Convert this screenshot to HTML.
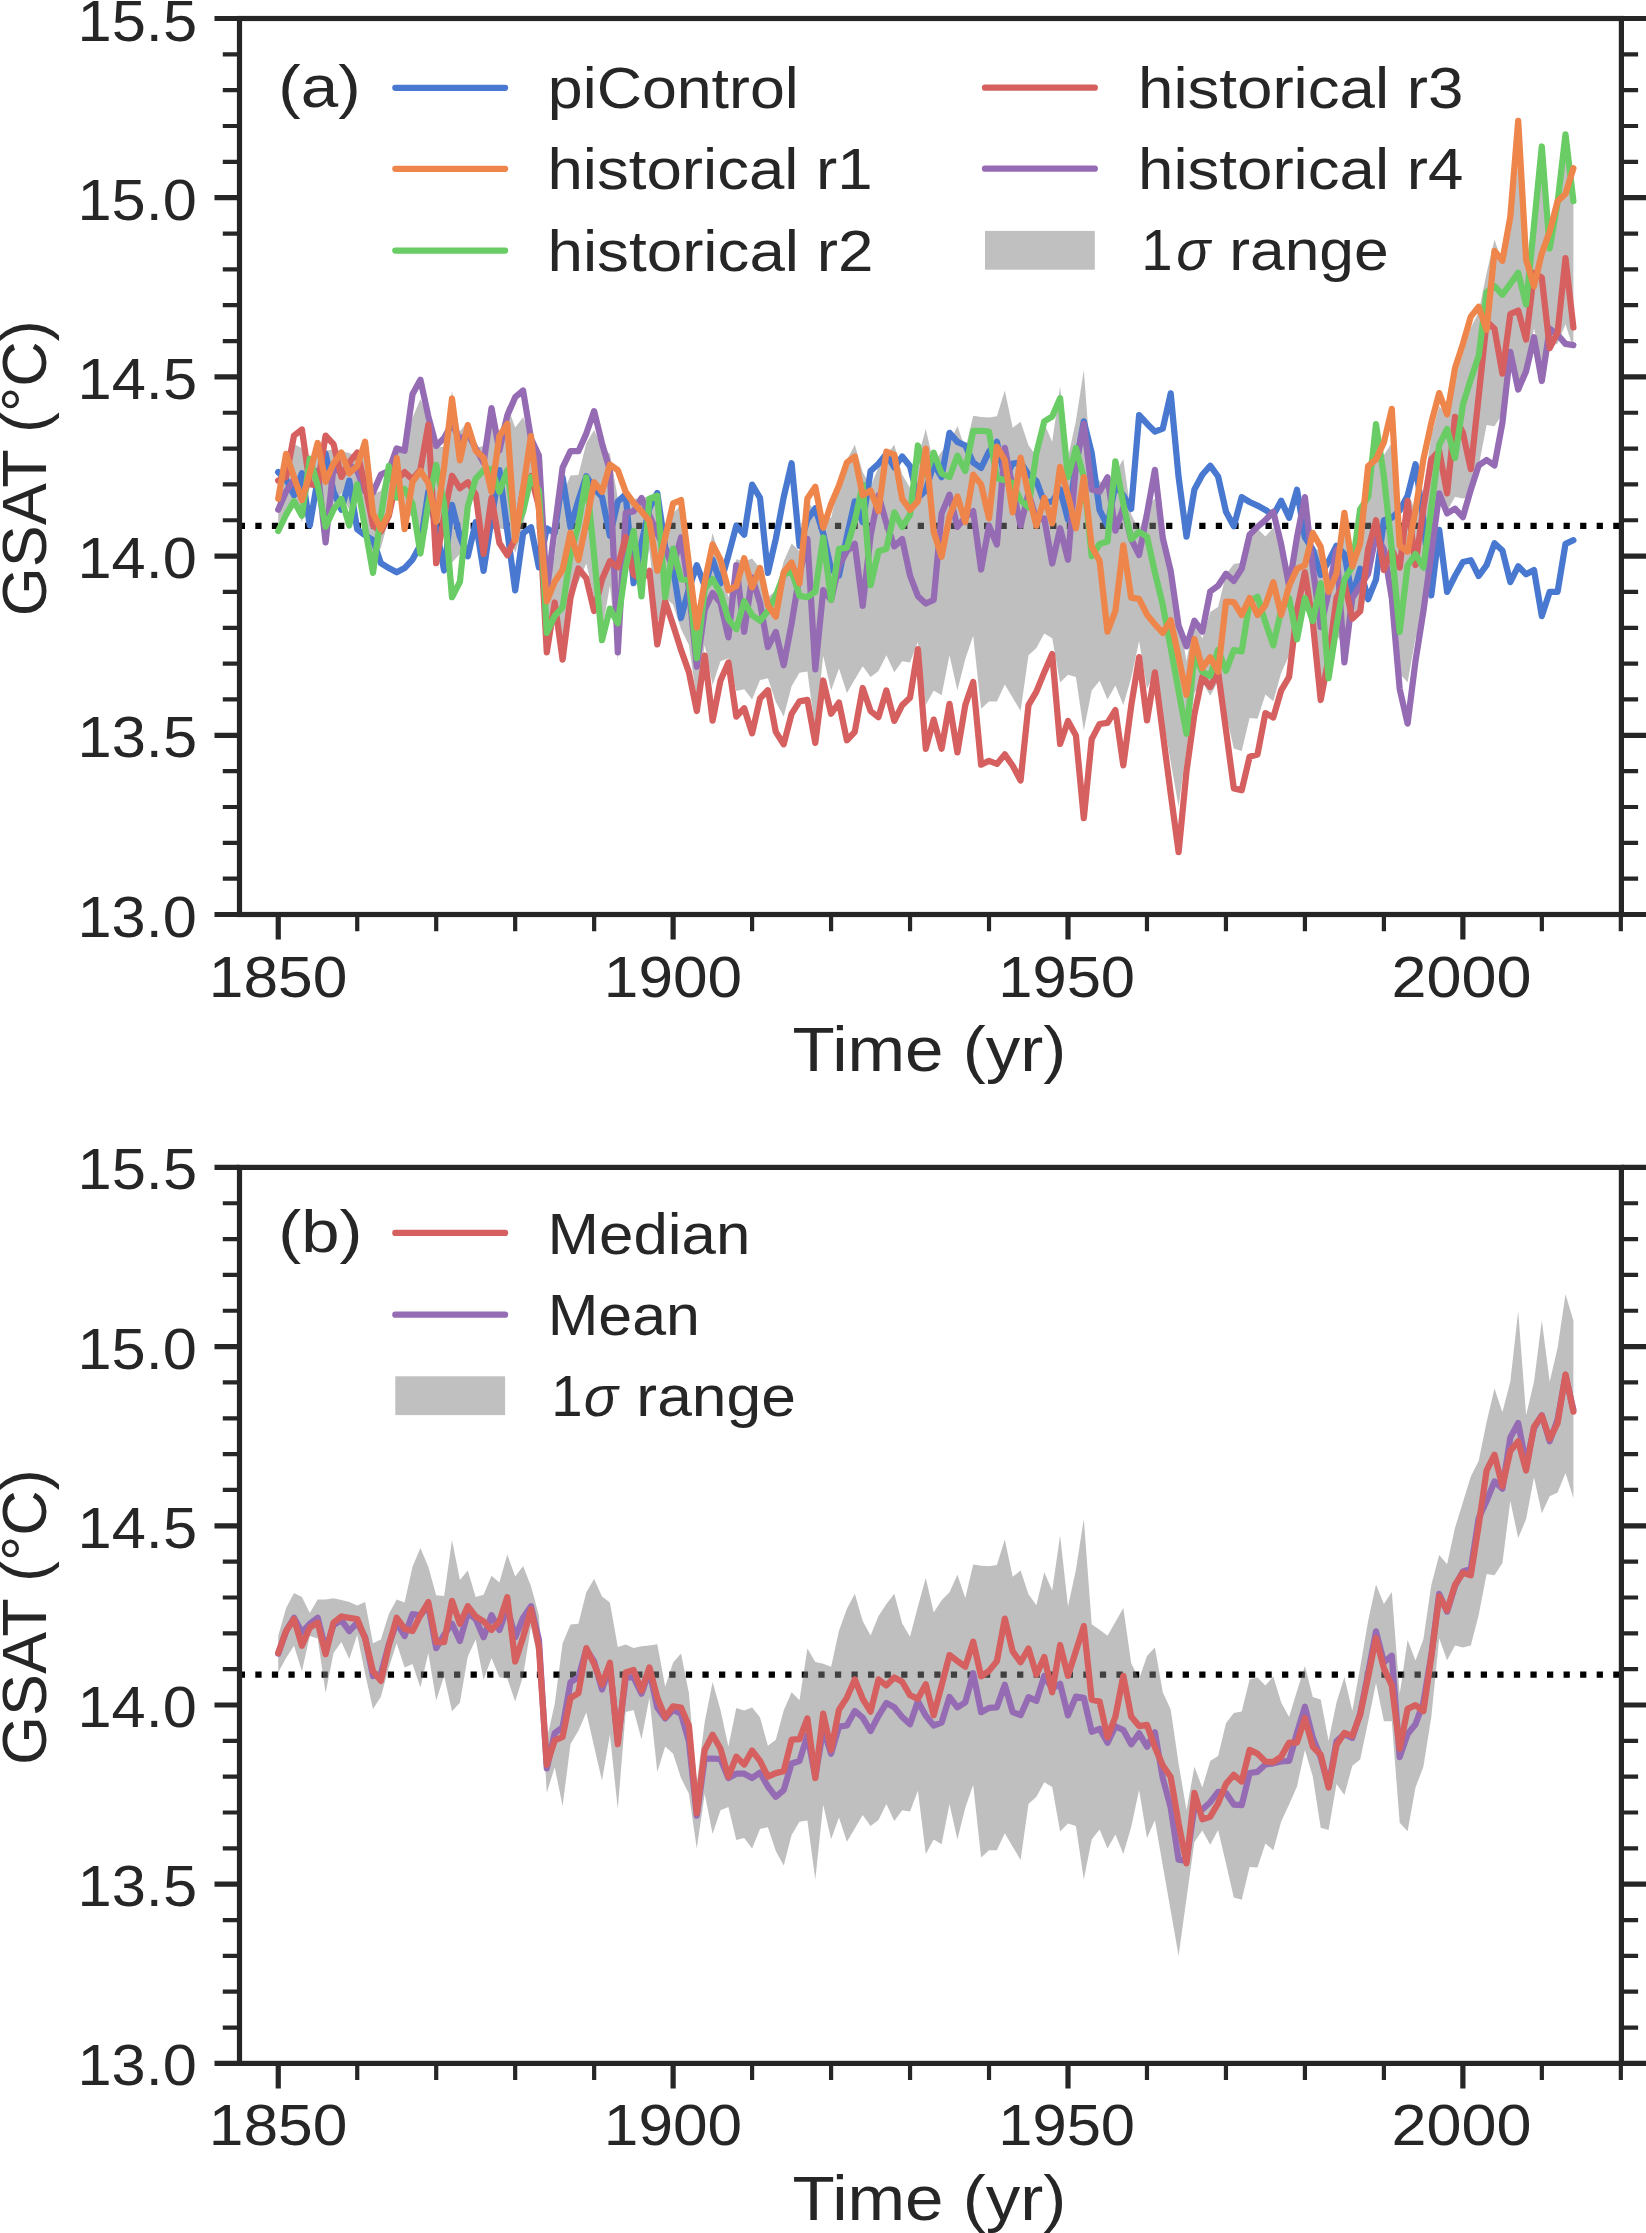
<!DOCTYPE html><html lang="en"><head><meta charset="utf-8"><title>GSAT</title><style>html,body{margin:0;padding:0;background:#fff}svg{display:block}</style></head><body>
<svg width="1646" height="2233" viewBox="0 0 1646 2233">
<rect width="1646" height="2233" fill="#fff"/>
<defs><clipPath id="ca"><rect x="239.5" y="18.5" width="1381.90" height="896"/></clipPath><clipPath id="cb"><rect x="239.5" y="1167.4" width="1381.90" height="896"/></clipPath></defs>
<g clip-path="url(#ca)" fill="none" stroke-width="6.25" stroke-linejoin="round" stroke-linecap="round">
<path d="M238.76 525.82H1621.4" stroke="#000" stroke-dasharray="6.25 10.31" stroke-linecap="butt"/>
<path d="M278.2 487.1L286.1 459.1L294.0 444.0L301.9 448.2L309.8 464.0L317.7 450.6L325.6 450.6L333.5 449.4L341.4 451.2L349.3 453.1L357.2 456.7L365.1 453.1L373.0 494.4L380.9 490.7L388.8 465.2L396.7 450.6L404.6 453.7L412.5 417.8L420.4 399.0L428.3 417.8L436.2 446.4L444.1 447.0L452.0 391.1L459.9 431.2L467.8 421.5L475.7 448.2L483.6 445.8L491.5 426.9L499.4 433.6L507.3 405.7L515.2 427.6L523.1 417.2L531.0 437.3L538.9 466.4L546.8 590.4L554.7 555.1L562.6 494.4L570.5 475.5L578.4 474.9L586.3 443.3L594.1 430.0L602.0 447.6L609.9 453.7L617.8 498.0L625.7 495.6L633.6 499.2L641.5 497.4L649.4 496.6L657.3 495.4L665.2 537.9L673.1 513.6L681.0 504.5L688.9 544.0L696.8 633.9L704.7 573.2L712.6 533.1L720.5 561.0L728.4 597.5L736.3 559.2L744.2 561.6L752.1 558.6L760.0 568.3L767.9 596.9L775.8 590.8L783.7 561.6L791.6 543.4L799.5 551.3L807.4 499.7L815.3 513.0L823.2 514.8L831.1 517.9L839.0 481.8L846.9 459.9L854.8 444.8L862.7 472.0L870.6 486.6L878.5 467.2L886.4 455.0L894.3 444.8L902.2 474.5L910.0 487.8L917.9 457.5L925.8 429.0L933.7 463.5L941.6 451.4L949.5 443.4L957.4 425.9L965.3 449.0L973.2 415.7L981.1 416.9L989.0 417.4L996.9 416.2L1004.8 390.6L1012.7 427.8L1020.6 421.7L1028.5 445.3L1036.4 456.3L1044.3 423.4L1052.2 441.7L1060.1 386.5L1068.0 457.5L1075.9 421.0L1083.8 370.0L1091.7 475.4L1099.6 480.9L1107.5 486.9L1115.4 473.0L1123.3 459.0L1131.2 514.3L1139.1 530.1L1147.0 507.0L1154.9 498.5L1162.8 543.4L1170.7 560.5L1178.6 614.8L1186.5 661.0L1194.4 617.9L1202.3 638.7L1210.2 612.0L1218.1 607.1L1226.0 574.3L1233.8 564.0L1241.7 562.7L1249.6 530.5L1257.5 528.7L1265.4 536.6L1273.3 527.5L1281.2 553.6L1289.1 568.2L1297.0 542.1L1304.9 517.2L1312.8 548.2L1320.7 550.6L1328.6 591.9L1336.5 553.6L1344.4 528.1L1352.3 562.1L1360.2 518.3L1368.1 472.1L1376.0 435.7L1383.9 455.1L1391.8 443.0L1399.7 545.0L1407.6 491.0L1415.5 511.6L1423.4 490.4L1431.3 436.0L1439.2 406.2L1447.1 415.3L1455.0 378.9L1462.9 353.3L1470.8 327.7L1478.7 311.9L1486.6 273.0L1494.5 239.6L1502.4 263.3L1510.3 232.9L1518.2 162.4L1526.1 266.3L1534.0 232.9L1541.8 171.5L1549.7 232.9L1557.6 198.9L1565.5 145.4L1573.4 171.5L1573.4 349.1L1565.5 324.2L1557.6 343.6L1549.7 347.3L1541.8 364.3L1534.0 328.4L1526.1 370.4L1518.2 389.2L1510.3 352.1L1502.4 414.1L1494.5 426.3L1486.6 425.0L1478.7 466.1L1470.8 496.7L1462.9 498.5L1455.0 496.7L1447.1 511.3L1439.2 489.4L1431.3 568.1L1423.4 617.9L1415.5 638.6L1407.6 682.3L1399.7 673.8L1391.8 572.4L1383.9 572.4L1376.0 534.1L1368.1 573.0L1360.2 610.7L1352.3 616.8L1344.4 646.0L1336.5 635.0L1328.6 681.2L1320.7 678.8L1312.8 627.7L1304.9 601.0L1297.0 637.5L1289.1 655.7L1281.2 672.7L1273.3 701.3L1265.4 694.6L1257.5 718.7L1249.6 718.1L1241.7 750.9L1233.8 748.5L1226.0 714.5L1218.1 681.2L1210.2 695.8L1202.3 681.7L1194.4 693.2L1186.5 749.7L1178.6 806.8L1170.7 761.9L1162.8 716.9L1154.9 671.3L1147.0 689.0L1139.1 641.0L1131.2 678.0L1123.3 705.0L1115.4 685.6L1107.5 699.6L1099.6 680.7L1091.7 690.5L1083.8 730.6L1075.9 677.1L1068.0 674.7L1060.1 682.6L1052.2 638.2L1044.3 633.4L1036.4 647.9L1028.5 655.2L1020.6 711.1L1012.7 697.8L1004.8 684.4L996.9 701.4L989.0 701.4L981.1 708.7L973.2 635.8L965.3 658.9L957.4 690.5L949.5 655.2L941.6 695.3L933.7 690.5L925.8 705.1L917.9 641.9L910.0 662.5L902.2 661.3L894.3 672.2L886.4 655.2L878.5 671.0L870.6 677.1L862.7 666.2L854.8 679.5L846.9 692.9L839.0 668.6L831.1 690.4L823.2 655.8L815.3 730.5L807.4 671.6L799.5 672.8L791.6 686.2L783.7 716.5L775.8 702.0L767.9 678.3L760.0 680.1L752.1 699.5L744.2 689.2L736.3 691.0L728.4 658.2L720.5 661.3L712.6 685.0L704.7 644.9L696.8 699.5L688.9 644.9L681.0 629.1L673.1 604.8L665.2 597.5L657.3 623.0L649.4 548.9L641.5 590.4L633.6 561.2L625.7 563.0L617.8 660.2L609.9 585.5L602.0 631.7L594.1 597.7L586.3 563.6L578.4 581.9L570.5 595.2L562.6 657.2L554.7 618.3L546.8 643.8L538.9 515.0L531.0 477.4L523.1 527.2L515.2 552.7L507.3 529.6L499.4 528.4L491.5 509.0L483.6 530.8L475.7 490.7L467.8 507.7L459.9 553.9L452.0 562.4L444.1 527.2L436.2 551.5L428.3 504.1L420.4 538.7L412.5 515.0L404.6 518.7L396.7 494.4L388.8 518.7L380.9 547.8L373.0 560.0L365.1 524.8L357.2 485.9L349.3 510.2L341.4 493.2L333.5 504.1L325.6 544.2L317.7 489.5L309.8 487.1L301.9 522.3L294.0 496.8L286.1 509.0L278.2 523.5Z" fill="#808080" fill-opacity="0.5" stroke="none"/>
<path d="M278.2 472.1L286.1 479.4L294.0 495.2L301.9 473.3L309.8 525.5L317.7 479.4L325.6 453.8L333.5 491.5L341.4 509.7L349.3 480.6L357.2 529.2L365.1 535.2L373.0 540.1L380.9 563.2L388.8 568.1L396.7 572.3L404.6 568.1L412.5 559.6L420.4 545.0L428.3 491.5L436.2 528.0L444.1 570.5L452.0 504.9L459.9 536.9L467.8 556.3L475.7 522.3L483.6 570.9L491.5 518.7L499.4 470.1L507.3 530.8L515.2 590.3L523.1 533.2L531.0 527.2L538.9 567.3L546.8 528.4L554.7 533.2L562.6 477.3L570.5 527.2L578.4 500.4L586.3 476.1L594.1 488.3L602.0 496.8L609.9 535.7L617.8 501.6L625.7 494.4L633.6 583.1L641.5 543.0L649.4 508.3L657.3 493.0L665.2 547.2L673.1 568.0L681.0 618.0L688.9 588.8L696.8 565.2L704.7 586.1L712.6 559.7L720.5 583.3L728.4 555.5L736.3 525.7L744.2 534.7L752.1 484.7L760.0 497.9L767.9 572.9L775.8 538.9L783.7 497.2L791.6 463.2L799.5 545.8L807.4 519.4L815.3 508.3L823.2 533.3L831.1 569.4L839.0 575.5L846.9 536.6L854.8 501.4L862.7 522.1L870.6 471.0L878.5 463.7L886.4 454.0L894.3 467.4L902.2 456.5L910.0 466.2L917.9 497.8L925.8 490.5L933.7 463.7L941.6 477.1L949.5 432.8L957.4 441.9L965.3 445.5L973.2 462.5L981.1 468.0L989.0 451.6L996.9 441.9L1004.8 478.3L1012.7 463.7L1020.6 462.5L1028.5 474.8L1036.4 480.9L1044.3 502.7L1052.2 501.5L1060.1 489.4L1068.0 519.7L1075.9 465.1L1083.8 421.3L1091.7 452.9L1099.6 510.0L1107.5 525.8L1115.4 484.5L1123.3 495.4L1131.2 508.8L1139.1 415.2L1147.0 423.7L1154.9 431.6L1162.8 428.6L1170.7 393.4L1178.6 477.2L1186.5 536.7L1194.4 489.4L1202.3 474.8L1210.2 465.7L1218.1 476.5L1226.0 511.7L1233.8 526.3L1241.7 497.1L1249.6 502.0L1257.5 505.6L1265.4 509.9L1273.3 515.3L1281.2 500.8L1289.1 517.8L1297.0 489.8L1304.9 537.2L1312.8 549.4L1320.7 574.9L1328.6 561.5L1336.5 545.7L1344.4 554.2L1352.3 596.7L1360.2 568.8L1368.1 599.2L1376.0 579.7L1383.9 520.2L1391.8 517.8L1399.7 510.5L1407.6 495.8L1415.5 464.2L1423.4 520.1L1431.3 595.4L1439.2 529.8L1447.1 591.8L1455.0 576.0L1462.9 562.0L1470.8 560.2L1478.7 576.0L1486.6 565.1L1494.5 543.2L1502.4 550.5L1510.3 582.1L1518.2 566.3L1526.1 574.2L1534.0 569.9L1541.8 616.1L1549.7 591.8L1557.6 591.8L1565.5 543.8L1573.4 540.2" stroke="#4878d0"/>
<path d="M278.2 509.7L286.1 491.5L294.0 479.4L301.9 498.8L309.8 475.7L317.7 470.9L325.6 542.5L333.5 467.2L341.4 473.3L349.3 464.8L357.2 470.9L365.1 491.5L373.0 492.7L380.9 474.5L388.8 470.9L396.7 448.4L404.6 450.8L412.5 394.3L420.4 379.7L428.3 416.2L436.2 445.9L444.1 438.0L452.0 423.5L459.9 439.7L467.8 433.6L475.7 448.2L483.6 462.8L491.5 408.1L499.4 450.6L507.3 415.4L515.2 397.2L523.1 390.5L531.0 438.5L538.9 455.5L546.8 591.6L554.7 528.4L562.6 467.6L570.5 451.2L578.4 451.2L586.3 433.6L594.1 411.1L602.0 443.3L609.9 470.1L617.8 652.3L625.7 512.6L633.6 511.4L641.5 498.0L649.4 515.3L657.3 533.3L665.2 550.0L673.1 566.6L681.0 537.5L688.9 588.8L696.8 666.6L704.7 609.7L712.6 593.0L720.5 602.7L728.4 637.4L736.3 565.2L744.2 631.9L752.1 577.7L760.0 602.7L767.9 647.1L775.8 631.9L783.7 665.2L791.6 623.5L799.5 574.9L807.4 538.9L815.3 669.4L823.2 590.2L831.1 599.9L839.0 565.8L846.9 551.2L854.8 543.9L862.7 605.9L870.6 535.4L878.5 495.3L886.4 523.3L894.3 546.4L902.2 539.1L910.0 575.5L917.9 596.2L925.8 603.5L933.7 599.8L941.6 513.6L949.5 494.7L957.4 526.9L965.3 517.2L973.2 511.1L981.1 569.5L989.0 525.7L996.9 544.5L1004.8 447.9L1012.7 488.0L1020.6 525.7L1028.5 492.9L1036.4 519.7L1044.3 518.5L1052.2 563.5L1060.1 528.2L1068.0 559.8L1075.9 465.1L1083.8 423.7L1091.7 489.4L1099.6 491.8L1107.5 477.2L1115.4 530.7L1123.3 507.6L1131.2 539.2L1139.1 555.0L1147.0 513.7L1154.9 469.9L1162.8 538.0L1170.7 570.9L1178.6 625.6L1186.5 646.3L1194.4 620.8L1202.3 631.7L1210.2 591.6L1218.1 585.8L1226.0 573.7L1233.8 580.9L1241.7 568.8L1249.6 534.8L1257.5 526.9L1265.4 520.2L1273.3 511.7L1281.2 544.5L1289.1 585.8L1297.0 537.2L1304.9 497.1L1312.8 567.6L1320.7 627.1L1328.6 591.9L1336.5 549.4L1344.4 662.4L1352.3 598.0L1360.2 585.8L1368.1 573.7L1376.0 534.8L1383.9 549.4L1391.8 598.0L1399.7 689.1L1407.6 723.6L1415.5 661.1L1423.4 611.2L1431.3 554.1L1439.2 493.4L1447.1 513.4L1455.0 508.6L1462.9 517.1L1470.8 489.7L1478.7 465.4L1486.6 460.0L1494.5 465.4L1502.4 422.9L1510.3 351.8L1518.2 389.5L1526.1 371.2L1534.0 337.2L1541.8 381.0L1549.7 328.7L1557.6 334.8L1565.5 343.9L1573.4 345.1" stroke="#956cb4"/>
<path d="M278.2 480.6L286.1 476.9L294.0 435.6L301.9 429.5L309.8 484.2L317.7 485.4L325.6 435.6L333.5 444.1L341.4 476.9L349.3 462.3L357.2 452.6L365.1 485.4L373.0 525.5L380.9 531.6L388.8 515.8L396.7 479.4L404.6 472.1L412.5 479.4L420.4 469.6L428.3 424.7L436.2 563.2L444.1 515.8L452.0 475.7L459.9 488.3L467.8 482.2L475.7 494.4L483.6 553.9L491.5 498.0L499.4 543.0L507.3 555.1L515.2 538.1L523.1 489.5L531.0 476.1L538.9 506.5L546.8 652.3L554.7 602.5L562.6 659.6L570.5 597.6L578.4 568.5L586.3 578.2L594.1 611.0L602.0 579.4L609.9 561.2L617.8 567.3L625.7 536.9L633.6 574.6L641.5 579.4L649.4 570.8L657.3 644.4L665.2 601.3L673.1 624.9L681.0 649.9L688.9 672.1L696.8 711.0L704.7 655.5L712.6 720.7L720.5 680.5L728.4 662.4L736.3 716.6L744.2 708.2L752.1 733.2L760.0 698.5L767.9 690.2L775.8 731.8L783.7 744.3L791.6 713.8L799.5 701.3L807.4 699.9L815.3 742.9L823.2 680.5L831.1 713.8L839.0 702.6L846.9 740.3L854.8 731.8L862.7 688.0L870.6 711.1L878.5 717.2L886.4 690.5L894.3 720.9L902.2 705.1L910.0 697.8L917.9 649.2L925.8 748.8L933.7 719.6L941.6 748.8L949.5 703.8L957.4 752.4L965.3 705.1L973.2 682.0L981.1 764.6L989.0 760.9L996.9 763.9L1004.8 754.4L1012.7 765.8L1020.6 780.4L1028.5 705.1L1036.4 691.7L1044.3 672.2L1052.2 654.0L1060.1 743.9L1068.0 720.9L1075.9 735.4L1083.8 818.1L1091.7 739.1L1099.6 724.0L1107.5 722.8L1115.4 710.1L1123.3 765.3L1131.2 705.8L1139.1 657.2L1147.0 720.4L1154.9 672.4L1162.8 733.0L1170.7 793.7L1178.6 852.1L1186.5 771.4L1194.4 714.3L1202.3 676.6L1210.2 687.0L1218.1 671.8L1226.0 730.1L1233.8 788.4L1241.7 790.3L1249.6 756.8L1257.5 754.4L1265.4 713.1L1273.3 717.4L1281.2 690.3L1289.1 676.9L1297.0 610.1L1304.9 572.4L1312.8 622.3L1320.7 700.0L1328.6 658.7L1336.5 598.0L1344.4 582.2L1352.3 618.6L1360.2 611.3L1368.1 549.4L1376.0 520.2L1383.9 570.0L1391.8 549.4L1399.7 567.6L1407.6 500.8L1415.5 565.1L1423.4 508.0L1431.3 459.4L1439.2 450.9L1447.1 493.4L1455.0 416.8L1462.9 432.6L1470.8 469.1L1478.7 396.2L1486.6 321.4L1494.5 328.7L1502.4 373.7L1510.3 314.1L1518.2 310.5L1526.1 339.6L1534.0 272.8L1541.8 277.7L1549.7 348.2L1557.6 332.4L1565.5 258.2L1573.4 327.5" stroke="#d65f5f"/>
<path d="M278.2 531.0L286.1 514.6L294.0 501.2L301.9 515.8L309.8 458.7L317.7 485.4L325.6 526.7L333.5 509.7L341.4 498.8L349.3 525.5L357.2 484.2L365.1 528.0L373.0 572.9L380.9 515.8L388.8 466.0L396.7 497.6L404.6 489.1L412.5 503.7L420.4 553.5L428.3 503.7L436.2 464.8L444.1 503.7L452.0 597.2L459.9 581.8L467.8 506.5L475.7 478.6L483.6 470.1L491.5 468.8L499.4 491.9L507.3 470.1L515.2 530.8L523.1 511.4L531.0 477.3L538.9 490.7L546.8 632.9L554.7 615.9L562.6 607.4L570.5 555.1L578.4 524.7L586.3 477.3L594.1 555.1L602.0 640.2L609.9 608.6L617.8 623.2L625.7 567.3L633.6 530.8L641.5 596.4L649.4 498.6L657.3 495.8L665.2 597.2L673.1 548.6L681.0 579.1L688.9 580.5L696.8 658.2L704.7 588.8L712.6 579.1L720.5 593.0L728.4 619.4L736.3 629.1L744.2 601.3L752.1 615.2L760.0 620.8L767.9 611.0L775.8 595.8L783.7 574.9L791.6 570.8L799.5 595.8L807.4 597.2L815.3 591.6L823.2 537.5L831.1 599.9L839.0 548.8L846.9 547.6L854.8 520.9L862.7 484.4L870.6 585.2L878.5 551.2L886.4 548.8L894.3 512.3L902.2 526.9L910.0 514.8L917.9 445.5L925.8 474.7L933.7 452.8L941.6 473.5L949.5 477.1L957.4 455.8L965.3 471.0L973.2 430.9L981.1 430.9L989.0 431.5L996.9 478.3L1004.8 480.1L1012.7 483.2L1020.6 500.2L1028.5 507.5L1036.4 452.9L1044.3 421.3L1052.2 416.5L1060.1 398.2L1068.0 477.2L1075.9 448.0L1083.8 477.2L1091.7 556.2L1099.6 544.0L1107.5 541.6L1115.4 461.4L1123.3 503.9L1131.2 539.2L1139.1 531.9L1147.0 536.7L1154.9 572.2L1162.8 605.0L1170.7 647.8L1178.6 690.9L1186.5 733.8L1194.4 654.8L1202.3 671.8L1210.2 676.0L1218.1 649.9L1226.0 670.9L1233.8 650.2L1241.7 651.4L1249.6 601.6L1257.5 596.7L1265.4 622.3L1273.3 645.3L1281.2 610.1L1289.1 598.0L1297.0 639.3L1304.9 598.0L1312.8 621.0L1320.7 583.4L1328.6 678.2L1336.5 625.9L1344.4 579.7L1352.3 566.4L1360.2 509.3L1368.1 497.1L1376.0 424.2L1383.9 476.5L1391.8 549.4L1399.7 632.0L1407.6 565.2L1415.5 554.1L1423.4 567.5L1431.3 508.0L1439.2 444.8L1447.1 429.0L1455.0 458.1L1462.9 404.7L1470.8 379.2L1478.7 356.1L1486.6 292.3L1494.5 286.2L1502.4 294.7L1510.3 283.8L1518.2 272.8L1526.1 304.4L1534.0 225.4L1541.8 146.5L1549.7 248.5L1557.6 202.3L1565.5 134.3L1573.4 201.1" stroke="#6acc64"/>
<path d="M278.2 498.8L286.1 453.8L294.0 476.9L301.9 500.0L309.8 473.3L317.7 442.9L325.6 481.8L333.5 463.6L341.4 452.6L349.3 473.3L357.2 466.0L365.1 441.7L373.0 513.4L380.9 529.2L388.8 513.4L396.7 458.1L404.6 529.2L412.5 481.8L420.4 470.9L428.3 483.0L436.2 521.9L444.1 467.2L452.0 398.6L459.9 460.3L467.8 425.1L475.7 450.6L483.6 457.9L491.5 491.9L499.4 436.0L507.3 423.9L515.2 540.5L523.1 488.3L531.0 436.0L538.9 508.9L546.8 601.3L554.7 581.8L562.6 569.7L570.5 532.6L578.4 560.0L586.3 522.3L594.1 482.2L602.0 491.9L609.9 464.6L617.8 470.1L625.7 491.9L633.6 502.9L641.5 511.4L649.4 520.8L657.3 570.8L665.2 537.5L673.1 503.4L681.0 500.0L688.9 563.8L696.8 627.7L704.7 581.9L712.6 544.4L720.5 559.7L728.4 590.2L736.3 586.1L744.2 558.3L752.1 587.4L760.0 568.0L767.9 605.5L775.8 616.6L783.7 572.2L791.6 562.5L799.5 583.3L807.4 498.6L815.3 486.8L823.2 527.7L831.1 504.1L839.0 485.6L846.9 462.5L854.8 456.5L862.7 495.3L870.6 490.5L878.5 511.1L886.4 451.6L894.3 454.6L902.2 499.0L910.0 509.9L917.9 501.4L925.8 448.6L933.7 531.8L941.6 556.7L949.5 516.0L957.4 496.5L965.3 522.1L973.2 474.7L981.1 484.4L989.0 518.4L996.9 446.7L1004.8 460.1L1012.7 512.3L1020.6 457.7L1028.5 494.1L1036.4 525.8L1044.3 497.9L1052.2 523.4L1060.1 466.9L1068.0 495.4L1075.9 528.2L1083.8 477.2L1091.7 546.5L1099.6 561.0L1107.5 631.7L1115.4 610.9L1123.3 545.3L1131.2 597.7L1139.1 598.9L1147.0 614.7L1154.9 624.4L1162.8 632.9L1170.7 620.1L1178.6 657.2L1186.5 694.9L1194.4 639.0L1202.3 668.1L1210.2 657.2L1218.1 671.8L1226.0 601.6L1233.8 602.2L1241.7 615.0L1249.6 598.0L1257.5 615.0L1265.4 605.2L1273.3 582.2L1281.2 615.0L1289.1 585.8L1297.0 568.8L1304.9 565.2L1312.8 533.0L1320.7 546.9L1328.6 591.9L1336.5 573.7L1344.4 512.9L1352.3 566.4L1360.2 543.3L1368.1 466.1L1376.0 459.4L1383.9 442.4L1391.8 408.9L1399.7 545.7L1407.6 551.7L1415.5 510.4L1423.4 459.4L1431.3 422.9L1439.2 393.1L1447.1 414.4L1455.0 368.2L1462.9 343.9L1470.8 316.6L1478.7 306.8L1486.6 329.9L1494.5 250.9L1502.4 260.7L1510.3 216.9L1518.2 120.9L1526.1 259.5L1534.0 286.2L1541.8 253.4L1549.7 231.5L1557.6 201.1L1565.5 193.8L1573.4 168.3" stroke="#ee854a"/>
</g>
<rect x="239.5" y="18.5" width="1381.90" height="896.0" fill="none" stroke="#262626" stroke-width="5.2"/>
<path d="M214.50 914.50H239.5M1621.4 914.50H1646.40M214.50 735.30H239.5M1621.4 735.30H1646.40M214.50 556.10H239.5M1621.4 556.10H1646.40M214.50 376.90H239.5M1621.4 376.90H1646.40M214.50 197.70H239.5M1621.4 197.70H1646.40M214.50 18.50H239.5M1621.4 18.50H1646.40M278.25 914.5V939.50M673.12 914.5V939.50M1068.00 914.5V939.50M1462.88 914.5V939.50" stroke="#262626" stroke-width="5.2" fill="none"/>
<path d="M222.80 878.66H239.5M1621.4 878.66H1638.10M222.80 842.82H239.5M1621.4 842.82H1638.10M222.80 806.98H239.5M1621.4 806.98H1638.10M222.80 771.14H239.5M1621.4 771.14H1638.10M222.80 699.46H239.5M1621.4 699.46H1638.10M222.80 663.62H239.5M1621.4 663.62H1638.10M222.80 627.78H239.5M1621.4 627.78H1638.10M222.80 591.94H239.5M1621.4 591.94H1638.10M222.80 520.26H239.5M1621.4 520.26H1638.10M222.80 484.42H239.5M1621.4 484.42H1638.10M222.80 448.58H239.5M1621.4 448.58H1638.10M222.80 412.74H239.5M1621.4 412.74H1638.10M222.80 341.06H239.5M1621.4 341.06H1638.10M222.80 305.22H239.5M1621.4 305.22H1638.10M222.80 269.38H239.5M1621.4 269.38H1638.10M222.80 233.54H239.5M1621.4 233.54H1638.10M222.80 161.86H239.5M1621.4 161.86H1638.10M222.80 126.02H239.5M1621.4 126.02H1638.10M222.80 90.18H239.5M1621.4 90.18H1638.10M222.80 54.34H239.5M1621.4 54.34H1638.10M357.23 914.5V931.20M436.20 914.5V931.20M515.17 914.5V931.20M594.15 914.5V931.20M752.10 914.5V931.20M831.08 914.5V931.20M910.05 914.5V931.20M989.02 914.5V931.20M1146.97 914.5V931.20M1225.95 914.5V931.20M1304.92 914.5V931.20M1383.90 914.5V931.20M1541.85 914.5V931.20M1620.83 914.5V931.20" stroke="#262626" stroke-width="4.2" fill="none"/>
<text x="77.50" y="936.50" font-size="57.5" font-family="Liberation Sans, sans-serif" fill="#262626" textLength="119.31" lengthAdjust="spacingAndGlyphs">13.0</text>
<text x="77.49" y="757.30" font-size="57.5" font-family="Liberation Sans, sans-serif" fill="#262626" textLength="119.60" lengthAdjust="spacingAndGlyphs">13.5</text>
<text x="77.50" y="578.10" font-size="57.5" font-family="Liberation Sans, sans-serif" fill="#262626" textLength="119.31" lengthAdjust="spacingAndGlyphs">14.0</text>
<text x="77.49" y="398.90" font-size="57.5" font-family="Liberation Sans, sans-serif" fill="#262626" textLength="119.60" lengthAdjust="spacingAndGlyphs">14.5</text>
<text x="77.50" y="219.70" font-size="57.5" font-family="Liberation Sans, sans-serif" fill="#262626" textLength="119.31" lengthAdjust="spacingAndGlyphs">15.0</text>
<text x="77.49" y="40.50" font-size="57.5" font-family="Liberation Sans, sans-serif" fill="#262626" textLength="119.60" lengthAdjust="spacingAndGlyphs">15.5</text>
<text x="208.83" y="996.50" font-size="57.5" font-family="Liberation Sans, sans-serif" fill="#262626" textLength="138.52" lengthAdjust="spacingAndGlyphs">1850</text>
<text x="603.83" y="996.50" font-size="57.5" font-family="Liberation Sans, sans-serif" fill="#262626" textLength="138.31" lengthAdjust="spacingAndGlyphs">1900</text>
<text x="998.18" y="996.50" font-size="57.5" font-family="Liberation Sans, sans-serif" fill="#262626" textLength="136.94" lengthAdjust="spacingAndGlyphs">1950</text>
<text x="1391.52" y="996.50" font-size="57.5" font-family="Liberation Sans, sans-serif" fill="#262626" textLength="139.96" lengthAdjust="spacingAndGlyphs">2000</text>
<text x="792.54" y="1071.30" font-size="62.5" font-family="Liberation Sans, sans-serif" fill="#262626" textLength="273.84" lengthAdjust="spacingAndGlyphs">Time (yr)</text>
<text transform="rotate(-90)" x="-616.18" y="46.1" font-size="62.5" font-family="Liberation Sans, sans-serif" fill="#262626" textLength="295.84" lengthAdjust="spacingAndGlyphs">GSAT (°C)</text>
<g clip-path="url(#cb)" fill="none" stroke-width="6.25" stroke-linejoin="round" stroke-linecap="round">
<path d="M238.76 1674.72H1621.4" stroke="#000" stroke-dasharray="6.25 10.31" stroke-linecap="butt"/>
<path d="M278.2 1636.0L286.1 1608.0L294.0 1592.9L301.9 1597.1L309.8 1612.9L317.7 1599.5L325.6 1599.5L333.5 1598.3L341.4 1600.1L349.3 1602.0L357.2 1605.6L365.1 1602.0L373.0 1643.3L380.9 1639.6L388.8 1614.1L396.7 1599.5L404.6 1602.6L412.5 1566.7L420.4 1547.9L428.3 1566.7L436.2 1595.3L444.1 1595.9L452.0 1540.0L459.9 1580.1L467.8 1570.4L475.7 1597.1L483.6 1594.7L491.5 1575.8L499.4 1582.5L507.3 1554.6L515.2 1576.5L523.1 1566.1L531.0 1586.2L538.9 1615.3L546.8 1739.3L554.7 1704.0L562.6 1643.3L570.5 1624.4L578.4 1623.8L586.3 1592.2L594.1 1578.9L602.0 1596.5L609.9 1602.6L617.8 1646.9L625.7 1644.5L633.6 1648.1L641.5 1646.3L649.4 1645.5L657.3 1644.3L665.2 1686.8L673.1 1662.5L681.0 1653.4L688.9 1692.9L696.8 1782.8L704.7 1722.1L712.6 1682.0L720.5 1709.9L728.4 1746.4L736.3 1708.1L744.2 1710.5L752.1 1707.5L760.0 1717.2L767.9 1745.8L775.8 1739.7L783.7 1710.5L791.6 1692.3L799.5 1700.2L807.4 1648.6L815.3 1661.9L823.2 1663.7L831.1 1666.8L839.0 1630.7L846.9 1608.8L854.8 1593.7L862.7 1620.9L870.6 1635.5L878.5 1616.1L886.4 1603.9L894.3 1593.7L902.2 1623.4L910.0 1636.7L917.9 1606.4L925.8 1577.9L933.7 1612.4L941.6 1600.3L949.5 1592.3L957.4 1574.8L965.3 1597.9L973.2 1564.6L981.1 1565.8L989.0 1566.3L996.9 1565.1L1004.8 1539.5L1012.7 1576.7L1020.6 1570.6L1028.5 1594.2L1036.4 1605.2L1044.3 1572.3L1052.2 1590.6L1060.1 1535.4L1068.0 1606.4L1075.9 1569.9L1083.8 1518.9L1091.7 1624.3L1099.6 1629.8L1107.5 1635.8L1115.4 1621.9L1123.3 1607.9L1131.2 1663.2L1139.1 1679.0L1147.0 1655.9L1154.9 1647.4L1162.8 1692.3L1170.7 1709.4L1178.6 1763.7L1186.5 1809.9L1194.4 1766.8L1202.3 1787.6L1210.2 1760.9L1218.1 1756.0L1226.0 1723.2L1233.8 1712.9L1241.7 1711.6L1249.6 1679.4L1257.5 1677.6L1265.4 1685.5L1273.3 1676.4L1281.2 1702.5L1289.1 1717.1L1297.0 1691.0L1304.9 1666.1L1312.8 1697.1L1320.7 1699.5L1328.6 1740.8L1336.5 1702.5L1344.4 1677.0L1352.3 1711.0L1360.2 1667.2L1368.1 1621.0L1376.0 1584.6L1383.9 1604.0L1391.8 1591.9L1399.7 1693.9L1407.6 1639.9L1415.5 1660.5L1423.4 1639.3L1431.3 1584.9L1439.2 1555.1L1447.1 1564.2L1455.0 1527.8L1462.9 1502.2L1470.8 1476.6L1478.7 1460.8L1486.6 1421.9L1494.5 1388.5L1502.4 1412.2L1510.3 1381.8L1518.2 1311.3L1526.1 1415.2L1534.0 1381.8L1541.8 1320.4L1549.7 1381.8L1557.6 1347.8L1565.5 1294.3L1573.4 1320.4L1573.4 1498.0L1565.5 1473.1L1557.6 1492.5L1549.7 1496.2L1541.8 1513.2L1534.0 1477.3L1526.1 1519.3L1518.2 1538.1L1510.3 1501.0L1502.4 1563.0L1494.5 1575.2L1486.6 1573.9L1478.7 1615.0L1470.8 1645.6L1462.9 1647.4L1455.0 1645.6L1447.1 1660.2L1439.2 1638.3L1431.3 1717.0L1423.4 1766.8L1415.5 1787.5L1407.6 1831.2L1399.7 1822.7L1391.8 1721.3L1383.9 1721.3L1376.0 1683.0L1368.1 1721.9L1360.2 1759.6L1352.3 1765.7L1344.4 1794.9L1336.5 1783.9L1328.6 1830.1L1320.7 1827.7L1312.8 1776.6L1304.9 1749.9L1297.0 1786.4L1289.1 1804.6L1281.2 1821.6L1273.3 1850.2L1265.4 1843.5L1257.5 1867.6L1249.6 1867.0L1241.7 1899.8L1233.8 1897.4L1226.0 1863.4L1218.1 1830.1L1210.2 1844.7L1202.3 1830.6L1194.4 1842.1L1186.5 1898.6L1178.6 1955.7L1170.7 1910.8L1162.8 1865.8L1154.9 1820.2L1147.0 1837.9L1139.1 1789.9L1131.2 1826.9L1123.3 1853.9L1115.4 1834.5L1107.5 1848.5L1099.6 1829.6L1091.7 1839.4L1083.8 1879.5L1075.9 1826.0L1068.0 1823.6L1060.1 1831.5L1052.2 1787.1L1044.3 1782.3L1036.4 1796.8L1028.5 1804.1L1020.6 1860.0L1012.7 1846.7L1004.8 1833.3L996.9 1850.3L989.0 1850.3L981.1 1857.6L973.2 1784.7L965.3 1807.8L957.4 1839.4L949.5 1804.1L941.6 1844.2L933.7 1839.4L925.8 1854.0L917.9 1790.8L910.0 1811.4L902.2 1810.2L894.3 1821.1L886.4 1804.1L878.5 1819.9L870.6 1826.0L862.7 1815.1L854.8 1828.4L846.9 1841.8L839.0 1817.5L831.1 1839.3L823.2 1804.7L815.3 1879.4L807.4 1820.5L799.5 1821.7L791.6 1835.1L783.7 1865.4L775.8 1850.9L767.9 1827.2L760.0 1829.0L752.1 1848.4L744.2 1838.1L736.3 1839.9L728.4 1807.1L720.5 1810.2L712.6 1833.9L704.7 1793.8L696.8 1848.4L688.9 1793.8L681.0 1778.0L673.1 1753.7L665.2 1746.4L657.3 1771.9L649.4 1697.8L641.5 1739.3L633.6 1710.1L625.7 1711.9L617.8 1809.1L609.9 1734.4L602.0 1780.6L594.1 1746.6L586.3 1712.5L578.4 1730.8L570.5 1744.1L562.6 1806.1L554.7 1767.2L546.8 1792.7L538.9 1663.9L531.0 1626.3L523.1 1676.1L515.2 1701.6L507.3 1678.5L499.4 1677.3L491.5 1657.9L483.6 1679.7L475.7 1639.6L467.8 1656.6L459.9 1702.8L452.0 1711.3L444.1 1676.1L436.2 1700.4L428.3 1653.0L420.4 1687.6L412.5 1663.9L404.6 1667.6L396.7 1643.3L388.8 1667.6L380.9 1696.7L373.0 1708.9L365.1 1673.7L357.2 1634.8L349.3 1659.1L341.4 1642.1L333.5 1653.0L325.6 1693.1L317.7 1638.4L309.8 1636.0L301.9 1671.2L294.0 1645.7L286.1 1657.9L278.2 1672.4Z" fill="#808080" fill-opacity="0.5" stroke="none"/>
<path d="M278.2 1653.6L286.1 1631.1L294.0 1617.8L301.9 1632.3L309.8 1623.8L317.7 1617.8L325.6 1649.4L333.5 1625.1L341.4 1620.2L349.3 1631.1L357.2 1622.6L365.1 1637.2L373.0 1676.1L380.9 1673.7L388.8 1644.5L396.7 1622.6L404.6 1636.0L412.5 1614.1L420.4 1615.3L428.3 1605.6L436.2 1648.1L444.1 1634.8L452.0 1623.8L459.9 1640.9L467.8 1612.9L475.7 1619.0L483.6 1637.2L491.5 1615.3L499.4 1629.9L507.3 1608.0L515.2 1637.2L523.1 1617.8L531.0 1606.2L538.9 1639.6L546.8 1768.4L554.7 1733.2L562.6 1727.1L570.5 1682.2L578.4 1677.3L586.3 1649.4L594.1 1661.5L602.0 1689.5L609.9 1666.4L617.8 1741.7L625.7 1677.3L633.6 1677.3L641.5 1693.7L649.4 1671.0L657.3 1707.5L665.2 1718.4L673.1 1709.9L681.0 1713.6L688.9 1741.5L696.8 1815.6L704.7 1758.5L712.6 1758.5L720.5 1759.1L728.4 1778.0L736.3 1773.7L744.2 1773.7L752.1 1778.0L760.0 1772.5L767.9 1786.5L775.8 1796.8L783.7 1790.1L791.6 1763.4L799.5 1760.9L807.4 1735.4L815.3 1776.7L823.2 1729.4L831.1 1753.7L839.0 1726.7L846.9 1725.5L854.8 1710.9L862.7 1717.6L870.6 1731.0L878.5 1715.8L886.4 1703.0L894.3 1707.3L902.2 1717.0L910.0 1724.3L917.9 1701.2L925.8 1715.8L933.7 1725.5L941.6 1722.5L949.5 1697.0L957.4 1707.3L965.3 1702.4L973.2 1673.3L981.1 1712.2L989.0 1707.9L996.9 1707.3L1004.8 1684.8L1012.7 1712.2L1020.6 1715.2L1028.5 1697.2L1036.4 1700.9L1044.3 1675.9L1052.2 1688.7L1060.1 1683.8L1068.0 1715.4L1075.9 1696.6L1083.8 1697.8L1091.7 1731.8L1099.6 1728.8L1107.5 1742.8L1115.4 1726.4L1123.3 1730.0L1131.2 1744.3L1139.1 1733.4L1147.0 1746.7L1154.9 1732.2L1162.8 1778.3L1170.7 1807.5L1178.6 1859.7L1186.5 1860.9L1194.4 1807.5L1202.3 1809.5L1210.2 1802.2L1218.1 1791.8L1226.0 1793.0L1233.8 1804.6L1241.7 1805.2L1249.6 1773.0L1257.5 1771.8L1265.4 1764.5L1273.3 1763.3L1281.2 1761.5L1289.1 1760.9L1297.0 1732.9L1304.9 1706.8L1312.8 1737.8L1320.7 1757.2L1328.6 1786.4L1336.5 1741.4L1344.4 1734.1L1352.3 1737.8L1360.2 1713.5L1368.1 1673.3L1376.0 1631.4L1383.9 1662.3L1391.8 1655.7L1399.7 1757.1L1407.6 1734.0L1415.5 1724.3L1423.4 1702.4L1431.3 1655.3L1439.2 1594.0L1447.1 1611.6L1455.0 1586.1L1462.9 1571.5L1470.8 1569.1L1478.7 1518.0L1486.6 1500.9L1494.5 1481.4L1502.4 1488.7L1510.3 1437.7L1518.2 1423.1L1526.1 1464.4L1534.0 1428.0L1541.8 1415.2L1549.7 1441.3L1557.6 1419.5L1565.5 1375.7L1573.4 1409.7" stroke="#956cb4"/>
<path d="M278.2 1653.0L286.1 1631.1L294.0 1619.0L301.9 1645.7L309.8 1627.5L317.7 1622.6L325.6 1654.2L333.5 1622.6L341.4 1616.5L349.3 1617.8L357.2 1619.0L365.1 1638.4L373.0 1671.2L380.9 1680.9L388.8 1645.7L396.7 1617.8L404.6 1628.7L412.5 1631.1L420.4 1615.3L428.3 1602.0L436.2 1642.1L444.1 1642.1L452.0 1600.8L459.9 1623.8L467.8 1606.2L475.7 1616.5L483.6 1621.4L491.5 1629.9L499.4 1621.4L507.3 1597.1L515.2 1661.5L523.1 1637.2L531.0 1609.3L538.9 1646.9L546.8 1764.8L554.7 1740.5L562.6 1736.8L570.5 1698.0L578.4 1693.1L586.3 1648.1L594.1 1663.9L602.0 1684.6L609.9 1662.7L617.8 1744.1L625.7 1672.4L633.6 1670.0L641.5 1690.7L649.4 1667.4L657.3 1697.8L665.2 1717.2L673.1 1706.3L681.0 1707.5L688.9 1725.7L696.8 1813.2L704.7 1750.0L712.6 1734.8L720.5 1748.8L728.4 1776.7L736.3 1756.7L744.2 1764.6L752.1 1750.6L760.0 1760.9L767.9 1776.7L775.8 1773.1L783.7 1771.3L791.6 1739.7L799.5 1739.1L807.4 1718.4L815.3 1778.0L823.2 1713.6L831.1 1750.0L839.0 1709.7L846.9 1697.6L854.8 1679.4L862.7 1698.8L870.6 1711.6L878.5 1679.4L886.4 1685.4L894.3 1677.5L902.2 1681.8L910.0 1695.2L917.9 1698.8L925.8 1684.2L933.7 1715.2L941.6 1685.4L949.5 1655.1L957.4 1661.1L965.3 1666.6L973.2 1641.7L981.1 1676.3L989.0 1670.9L996.9 1661.1L1004.8 1618.6L1012.7 1651.4L1020.6 1662.3L1028.5 1648.6L1036.4 1674.7L1044.3 1657.1L1052.2 1692.3L1060.1 1645.0L1068.0 1675.9L1075.9 1651.0L1083.8 1626.1L1091.7 1699.6L1099.6 1701.5L1107.5 1737.3L1115.4 1716.6L1123.3 1675.9L1131.2 1716.6L1139.1 1726.1L1147.0 1724.9L1154.9 1747.3L1162.8 1765.6L1170.7 1777.1L1178.6 1823.3L1186.5 1863.4L1194.4 1792.9L1202.3 1819.2L1210.2 1816.7L1218.1 1803.4L1226.0 1783.9L1233.8 1774.8L1241.7 1781.5L1249.6 1749.9L1257.5 1753.6L1265.4 1761.5L1273.3 1762.1L1281.2 1756.6L1289.1 1742.6L1297.0 1742.6L1304.9 1718.3L1312.8 1746.9L1320.7 1754.8L1328.6 1787.6L1336.5 1745.1L1344.4 1732.9L1352.3 1735.9L1360.2 1714.7L1368.1 1676.9L1376.0 1638.0L1383.9 1668.4L1391.8 1685.4L1399.7 1748.6L1407.6 1708.8L1415.5 1705.2L1423.4 1711.2L1431.3 1656.6L1439.2 1596.4L1447.1 1610.4L1455.0 1584.9L1462.9 1572.7L1470.8 1575.2L1478.7 1525.2L1486.6 1470.5L1494.5 1454.7L1502.4 1486.3L1510.3 1451.0L1518.2 1441.3L1526.1 1470.5L1534.0 1426.7L1541.8 1415.8L1549.7 1438.9L1557.6 1423.1L1565.5 1374.5L1573.4 1411.6" stroke="#d65f5f"/>
</g>
<rect x="239.5" y="1167.4" width="1381.90" height="896.0" fill="none" stroke="#262626" stroke-width="5.2"/>
<path d="M214.50 2063.40H239.5M1621.4 2063.40H1646.40M214.50 1884.20H239.5M1621.4 1884.20H1646.40M214.50 1705.00H239.5M1621.4 1705.00H1646.40M214.50 1525.80H239.5M1621.4 1525.80H1646.40M214.50 1346.60H239.5M1621.4 1346.60H1646.40M214.50 1167.40H239.5M1621.4 1167.40H1646.40M278.25 2063.4V2088.40M673.12 2063.4V2088.40M1068.00 2063.4V2088.40M1462.88 2063.4V2088.40" stroke="#262626" stroke-width="5.2" fill="none"/>
<path d="M222.80 2027.56H239.5M1621.4 2027.56H1638.10M222.80 1991.72H239.5M1621.4 1991.72H1638.10M222.80 1955.88H239.5M1621.4 1955.88H1638.10M222.80 1920.04H239.5M1621.4 1920.04H1638.10M222.80 1848.36H239.5M1621.4 1848.36H1638.10M222.80 1812.52H239.5M1621.4 1812.52H1638.10M222.80 1776.68H239.5M1621.4 1776.68H1638.10M222.80 1740.84H239.5M1621.4 1740.84H1638.10M222.80 1669.16H239.5M1621.4 1669.16H1638.10M222.80 1633.32H239.5M1621.4 1633.32H1638.10M222.80 1597.48H239.5M1621.4 1597.48H1638.10M222.80 1561.64H239.5M1621.4 1561.64H1638.10M222.80 1489.96H239.5M1621.4 1489.96H1638.10M222.80 1454.12H239.5M1621.4 1454.12H1638.10M222.80 1418.28H239.5M1621.4 1418.28H1638.10M222.80 1382.44H239.5M1621.4 1382.44H1638.10M222.80 1310.76H239.5M1621.4 1310.76H1638.10M222.80 1274.92H239.5M1621.4 1274.92H1638.10M222.80 1239.08H239.5M1621.4 1239.08H1638.10M222.80 1203.24H239.5M1621.4 1203.24H1638.10M357.23 2063.4V2080.10M436.20 2063.4V2080.10M515.17 2063.4V2080.10M594.15 2063.4V2080.10M752.10 2063.4V2080.10M831.08 2063.4V2080.10M910.05 2063.4V2080.10M989.02 2063.4V2080.10M1146.97 2063.4V2080.10M1225.95 2063.4V2080.10M1304.92 2063.4V2080.10M1383.90 2063.4V2080.10M1541.85 2063.4V2080.10M1620.83 2063.4V2080.10" stroke="#262626" stroke-width="4.2" fill="none"/>
<text x="77.50" y="2085.40" font-size="57.5" font-family="Liberation Sans, sans-serif" fill="#262626" textLength="119.31" lengthAdjust="spacingAndGlyphs">13.0</text>
<text x="77.49" y="1906.20" font-size="57.5" font-family="Liberation Sans, sans-serif" fill="#262626" textLength="119.60" lengthAdjust="spacingAndGlyphs">13.5</text>
<text x="77.50" y="1727.00" font-size="57.5" font-family="Liberation Sans, sans-serif" fill="#262626" textLength="119.31" lengthAdjust="spacingAndGlyphs">14.0</text>
<text x="77.49" y="1547.80" font-size="57.5" font-family="Liberation Sans, sans-serif" fill="#262626" textLength="119.60" lengthAdjust="spacingAndGlyphs">14.5</text>
<text x="77.50" y="1368.60" font-size="57.5" font-family="Liberation Sans, sans-serif" fill="#262626" textLength="119.31" lengthAdjust="spacingAndGlyphs">15.0</text>
<text x="77.49" y="1189.40" font-size="57.5" font-family="Liberation Sans, sans-serif" fill="#262626" textLength="119.60" lengthAdjust="spacingAndGlyphs">15.5</text>
<text x="208.83" y="2145.40" font-size="57.5" font-family="Liberation Sans, sans-serif" fill="#262626" textLength="138.52" lengthAdjust="spacingAndGlyphs">1850</text>
<text x="603.83" y="2145.40" font-size="57.5" font-family="Liberation Sans, sans-serif" fill="#262626" textLength="138.31" lengthAdjust="spacingAndGlyphs">1900</text>
<text x="998.18" y="2145.40" font-size="57.5" font-family="Liberation Sans, sans-serif" fill="#262626" textLength="136.94" lengthAdjust="spacingAndGlyphs">1950</text>
<text x="1391.52" y="2145.40" font-size="57.5" font-family="Liberation Sans, sans-serif" fill="#262626" textLength="139.96" lengthAdjust="spacingAndGlyphs">2000</text>
<text x="792.54" y="2220.20" font-size="62.5" font-family="Liberation Sans, sans-serif" fill="#262626" textLength="273.84" lengthAdjust="spacingAndGlyphs">Time (yr)</text>
<text transform="rotate(-90)" x="-1765.08" y="46.1" font-size="62.5" font-family="Liberation Sans, sans-serif" fill="#262626" textLength="295.84" lengthAdjust="spacingAndGlyphs">GSAT (°C)</text>
<text x="278.28" y="107.40" font-size="58.5" font-family="Liberation Sans, sans-serif" fill="#262626" textLength="82.34" lengthAdjust="spacingAndGlyphs">(a)</text>
<path d="M395.30 87.80h109.8" stroke="#4878d0" stroke-width="6.25" stroke-linecap="round" fill="none"/>
<path d="M395.30 168.80h109.8" stroke="#ee854a" stroke-width="6.25" stroke-linecap="round" fill="none"/>
<path d="M395.30 250.50h109.8" stroke="#6acc64" stroke-width="6.25" stroke-linecap="round" fill="none"/>
<path d="M985.00 87.70h109.8" stroke="#d65f5f" stroke-width="6.25" stroke-linecap="round" fill="none"/>
<path d="M985.00 168.70h109.8" stroke="#956cb4" stroke-width="6.25" stroke-linecap="round" fill="none"/>
<rect x="985.00" y="230.90" width="109.8" height="38.8" fill="#c0c0c0"/>
<text x="547.85" y="108.30" font-size="58" font-family="Liberation Sans, sans-serif" fill="#262626" textLength="250.84" lengthAdjust="spacingAndGlyphs">piControl</text>
<text x="547.51" y="189.30" font-size="58" font-family="Liberation Sans, sans-serif" fill="#262626" textLength="325.15" lengthAdjust="spacingAndGlyphs">historical r1</text>
<text x="547.50" y="271.00" font-size="58" font-family="Liberation Sans, sans-serif" fill="#262626" textLength="325.87" lengthAdjust="spacingAndGlyphs">historical r2</text>
<text x="1138.01" y="108.20" font-size="58" font-family="Liberation Sans, sans-serif" fill="#262626" textLength="325.38" lengthAdjust="spacingAndGlyphs">historical r3</text>
<text x="1138.01" y="189.20" font-size="58" font-family="Liberation Sans, sans-serif" fill="#262626" textLength="325.36" lengthAdjust="spacingAndGlyphs">historical r4</text>
<text x="1141.23" y="270.40" font-size="58" font-family="Liberation Sans, sans-serif" fill="#262626" textLength="31.36" lengthAdjust="spacingAndGlyphs">1</text>
<text x="1176.15" y="270.40" font-size="58" font-family="Liberation Sans, sans-serif" fill="#262626" textLength="34.13" lengthAdjust="spacingAndGlyphs"><tspan font-style="italic">σ</tspan></text>
<text x="1229.27" y="270.40" font-size="58" font-family="Liberation Sans, sans-serif" fill="#262626" textLength="159.42" lengthAdjust="spacingAndGlyphs">range</text>
<text x="278.29" y="1252.20" font-size="58.5" font-family="Liberation Sans, sans-serif" fill="#262626" textLength="84.12" lengthAdjust="spacingAndGlyphs">(b)</text>
<path d="M395.30 1232.90h109.8" stroke="#d65f5f" stroke-width="6.25" stroke-linecap="round" fill="none"/>
<path d="M395.30 1314.70h109.8" stroke="#956cb4" stroke-width="6.25" stroke-linecap="round" fill="none"/>
<rect x="395.30" y="1376.30" width="109.8" height="38.8" fill="#c0c0c0"/>
<text x="547.64" y="1253.50" font-size="58" font-family="Liberation Sans, sans-serif" fill="#262626" textLength="202.74" lengthAdjust="spacingAndGlyphs">Median</text>
<text x="547.72" y="1335.10" font-size="58" font-family="Liberation Sans, sans-serif" fill="#262626" textLength="152.11" lengthAdjust="spacingAndGlyphs">Mean</text>
<text x="551.23" y="1416.30" font-size="58" font-family="Liberation Sans, sans-serif" fill="#262626" textLength="31.36" lengthAdjust="spacingAndGlyphs">1</text>
<text x="583.64" y="1416.30" font-size="58" font-family="Liberation Sans, sans-serif" fill="#262626" textLength="34.23" lengthAdjust="spacingAndGlyphs"><tspan font-style="italic">σ</tspan></text>
<text x="636.37" y="1416.30" font-size="58" font-family="Liberation Sans, sans-serif" fill="#262626" textLength="159.52" lengthAdjust="spacingAndGlyphs">range</text>
</svg></body></html>
